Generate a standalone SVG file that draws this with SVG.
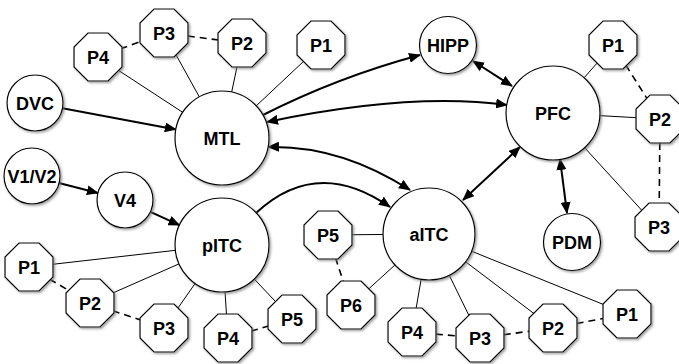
<svg xmlns="http://www.w3.org/2000/svg" xmlns:xlink="http://www.w3.org/1999/xlink" width="679" height="364" viewBox="0 0 679 364">
<style>
  .node { fill: #fff; stroke: #000; stroke-width: 1.2; filter: url(#sh); }
  .lbl { font-family: "Liberation Sans", Arial, sans-serif; font-weight: bold; font-size: 18px; text-anchor: middle; fill: #000; }
  .thin { stroke: #000; stroke-width: 1; fill: none; }
  .dash { stroke: #000; stroke-width: 1.6; fill: none; stroke-dasharray: 7 5; }
  .arrow { stroke: #000; stroke-width: 2; fill: none; }
  .one { marker-end: url(#ah); }
  .two { marker-start: url(#ah); marker-end: url(#ah); }
</style>
<defs>
  <filter id="sh" x="-20%" y="-20%" width="150%" height="150%">
    <feDropShadow dx="1.5" dy="1.5" stdDeviation="0.8" flood-color="#777" flood-opacity="0.7"/>
  </filter>
  <marker id="ah" viewBox="0 0 12 10" refX="11" refY="5" markerWidth="12" markerHeight="10" markerUnits="userSpaceOnUse" orient="auto-start-reverse">
    <path d="M0,0 L12,5 L0,10 Z" fill="#000"/>
  </marker>
  <polygon id="oct" points="-10,-24 10,-24 24,-10 24,10 10,24 -10,24 -24,10 -24,-10"/>
</defs>
<rect width="679" height="364" fill="#fff"/>

<g id="connectors">
  <!-- MTL satellites -->
  <line class="thin" x1="222" y1="138" x2="98" y2="57"/>
  <line class="thin" x1="222" y1="138" x2="164" y2="33"/>
  <line class="thin" x1="222" y1="138" x2="242" y2="43"/>
  <line class="thin" x1="222" y1="138" x2="321" y2="45"/>
  <line class="dash" x1="98" y1="57" x2="164" y2="33"/>
  <line class="dash" x1="164" y1="33" x2="242" y2="43"/>
  <!-- PFC satellites -->
  <line class="thin" x1="553" y1="113" x2="613" y2="45"/>
  <line class="thin" x1="553" y1="113" x2="660" y2="119"/>
  <line class="thin" x1="553" y1="113" x2="657" y2="227"/>
  <line class="dash" x1="613" y1="45" x2="660" y2="119"/>
  <line class="dash" x1="660" y1="119" x2="659" y2="227"/>
  <!-- pITC satellites -->
  <line class="thin" x1="222" y1="245" x2="29" y2="267"/>
  <line class="thin" x1="222" y1="245" x2="90" y2="303"/>
  <line class="thin" x1="222" y1="245" x2="164" y2="328"/>
  <line class="thin" x1="222" y1="245" x2="228" y2="338"/>
  <line class="thin" x1="222" y1="245" x2="292" y2="319"/>
  <line class="dash" x1="29" y1="267" x2="90" y2="303"/>
  <line class="dash" x1="90" y1="303" x2="164" y2="328"/>
  <line class="dash" x1="228" y1="338" x2="292" y2="319"/>
  <!-- aITC satellites -->
  <line class="thin" x1="429" y1="234" x2="328" y2="235"/>
  <line class="thin" x1="429" y1="234" x2="351" y2="305"/>
  <line class="thin" x1="429" y1="234" x2="412" y2="332"/>
  <line class="thin" x1="429" y1="234" x2="480" y2="338"/>
  <line class="thin" x1="429" y1="234" x2="553" y2="328"/>
  <line class="thin" x1="429" y1="234" x2="627" y2="314"/>
  <line class="dash" x1="328" y1="235" x2="351" y2="305"/>
  <line class="dash" x1="412" y1="332" x2="480" y2="338"/>
  <line class="dash" x1="480" y1="338" x2="553" y2="328"/>
  <line class="dash" x1="553" y1="328" x2="627" y2="314"/>
  <!-- arrows -->
  <path class="arrow one" d="M62.5,108.2 L175.8,129.4"/>
  <path class="arrow one" d="M59,183 L97.9,193"/>
  <path class="arrow one" d="M150.4,211.8 L179.4,225.2"/>
  <path class="arrow one" d="M256,213 Q317,156 390,207"/>
  <path class="arrow one" d="M263,115 Q338,77 420,55"/>
  <path class="arrow two" d="M267,122 Q410,92 507,105"/>
  <path class="arrow two" d="M268,147 Q340,145 410,190"/>
  <path class="arrow two" d="M473,61 L512,86"/>
  <path class="arrow two" d="M520,147 L463,200"/>
  <path class="arrow two" d="M560,159 L567,213"/>
</g>

<g id="MTL"><circle class="node" cx="222" cy="138" r="47"/><text class="lbl" x="222" y="144.5">MTL</text></g>
<g id="PFC"><circle class="node" cx="553" cy="113" r="47"/><text class="lbl" x="553" y="119.5">PFC</text></g>
<g id="pITC"><circle class="node" cx="222" cy="245" r="47"/><text class="lbl" x="222" y="251.5">pITC</text></g>
<g id="aITC"><circle class="node" cx="429" cy="234" r="46"/><text class="lbl" x="429" y="240.5">aITC</text></g>
<g id="DVC"><circle class="node" cx="35" cy="103" r="28"/><text class="lbl" x="35" y="109.5">DVC</text></g>
<g id="V1V2"><circle class="node" cx="32" cy="176" r="28"/><text class="lbl" x="32" y="182.5">V1/V2</text></g>
<g id="V4"><circle class="node" cx="125" cy="200" r="28"/><text class="lbl" x="125" y="206.5">V4</text></g>
<g id="HIPP"><circle class="node" cx="448" cy="45" r="28.5"/><text class="lbl" x="448" y="51.5">HIPP</text></g>
<g id="PDM"><circle class="node" cx="572" cy="242" r="28.5"/><text class="lbl" x="572" y="248.5">PDM</text></g>

<g id="MTL-P4"><use xlink:href="#oct" href="#oct" class="node" x="98" y="57"/><text class="lbl" x="98" y="63.5">P4</text></g>
<g id="MTL-P3"><use xlink:href="#oct" href="#oct" class="node" x="164" y="33"/><text class="lbl" x="164" y="39.5">P3</text></g>
<g id="MTL-P2"><use xlink:href="#oct" href="#oct" class="node" x="242" y="43"/><text class="lbl" x="242" y="49.5">P2</text></g>
<g id="MTL-P1"><use xlink:href="#oct" href="#oct" class="node" x="321" y="45"/><text class="lbl" x="321" y="51.5">P1</text></g>

<g id="PFC-P1"><use xlink:href="#oct" href="#oct" class="node" x="613" y="45"/><text class="lbl" x="613" y="51.5">P1</text></g>
<g id="PFC-P2"><use xlink:href="#oct" href="#oct" class="node" x="660" y="119"/><text class="lbl" x="660" y="125.5">P2</text></g>
<g id="PFC-P3"><use xlink:href="#oct" href="#oct" class="node" x="659" y="227"/><text class="lbl" x="659" y="233.5">P3</text></g>

<g id="pITC-P1"><use xlink:href="#oct" href="#oct" class="node" x="29" y="267"/><text class="lbl" x="29" y="273.5">P1</text></g>
<g id="pITC-P2"><use xlink:href="#oct" href="#oct" class="node" x="90" y="303"/><text class="lbl" x="90" y="309.5">P2</text></g>
<g id="pITC-P3"><use xlink:href="#oct" href="#oct" class="node" x="164" y="328"/><text class="lbl" x="164" y="334.5">P3</text></g>
<g id="pITC-P4"><use xlink:href="#oct" href="#oct" class="node" x="228" y="338"/><text class="lbl" x="228" y="344.5">P4</text></g>
<g id="pITC-P5"><use xlink:href="#oct" href="#oct" class="node" x="292" y="319"/><text class="lbl" x="292" y="325.5">P5</text></g>

<g id="aITC-P5"><use xlink:href="#oct" href="#oct" class="node" x="328" y="235"/><text class="lbl" x="328" y="241.5">P5</text></g>
<g id="aITC-P6"><use xlink:href="#oct" href="#oct" class="node" x="351" y="305"/><text class="lbl" x="351" y="311.5">P6</text></g>
<g id="aITC-P4"><use xlink:href="#oct" href="#oct" class="node" x="412" y="332"/><text class="lbl" x="412" y="338.5">P4</text></g>
<g id="aITC-P3"><use xlink:href="#oct" href="#oct" class="node" x="480" y="338"/><text class="lbl" x="480" y="344.5">P3</text></g>
<g id="aITC-P2"><use xlink:href="#oct" href="#oct" class="node" x="553" y="328"/><text class="lbl" x="553" y="334.5">P2</text></g>
<g id="aITC-P1"><use xlink:href="#oct" href="#oct" class="node" x="627" y="314"/><text class="lbl" x="627" y="320.5">P1</text></g>
</svg>
